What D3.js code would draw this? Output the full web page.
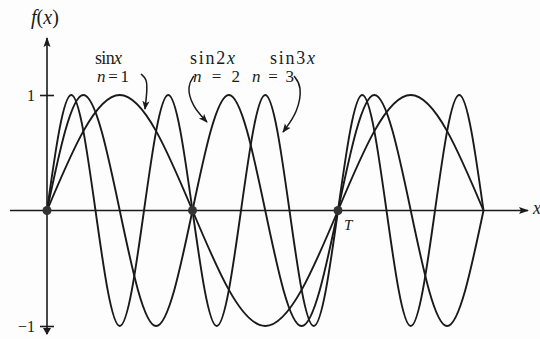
<!DOCTYPE html>
<html>
<head>
<meta charset="utf-8">
<script src="https://cdn.jsdelivr.net/npm/d3@7/dist/d3.min.js"></script>
<style>
  html, body { margin: 0; padding: 0; background: #fdfdfd; }
  svg { display: block; }
</style>
</head>
<body>
<svg id="chart" width="540" height="339"></svg>
<script>
// Harmonics n = 1, 2, 3 over one and a half periods (0 .. 3π)
const harmonics = [1, 2, 3];
const seriesNames = ["sin x", "sin2x", "sin3x"];
const seriesTags = ["n = 1", "n = 2", "n = 3"];

// Curve values at every quarter of each harmonic's own period
const sin1Values = [0, 1, 0, -1, 0, 1, 0];
const sin2Values = [0, 1, 0, -1, 0, 1, 0, -1, 0, 1, 0, -1, 0];
const sin3Values = [0, 1, 0, -1, 0, 1, 0, -1, 0, 1, 0, -1, 0, 1, 0, -1, 0, 1, 0];
const seriesValues = [sin1Values, sin2Values, sin3Values];

// Marked points on the axis: 0, π, T = 2π
const markedX = [0, Math.PI, 2 * Math.PI];
const yTicks = [-1, 1];
const yTickLabels = ["\u22121", "1"];

const ink = "#1a1a1a";
const serif = "'Liberation Serif', 'Times New Roman', Times, 'DejaVu Serif', serif";
const svg = d3.select("#chart");

const x = d3.scaleLinear().domain([0, 2 * Math.PI]).range([47, 338]);
const y = d3.scaleLinear().domain([-1, 1]).range([326, 95]);

// arrowhead markers
const defs = svg.append("defs");
defs.append("marker")
  .attr("id", "head").attr("viewBox", "0 0 10 10")
  .attr("refX", 9).attr("refY", 5)
  .attr("markerWidth", 9).attr("markerHeight", 9)
  .attr("markerUnits", "userSpaceOnUse")
  .attr("orient", "auto")
  .append("path").attr("d", "M0,1 L10,5 L0,9 L2.5,5 Z").attr("fill", ink);
defs.append("marker")
  .attr("id", "axisHead").attr("viewBox", "0 0 10 10")
  .attr("refX", 9).attr("refY", 5)
  .attr("markerWidth", 13).attr("markerHeight", 10)
  .attr("markerUnits", "userSpaceOnUse")
  .attr("orient", "auto")
  .append("path").attr("d", "M0,1.5 L10,5 L0,8.5 L2,5 Z").attr("fill", ink);

// x axis
svg.append("line")
  .attr("x1", 10).attr("x2", 528)
  .attr("y1", y(0)).attr("y2", y(0))
  .attr("stroke", ink).attr("stroke-width", 1.6)
  .attr("marker-end", "url(#axisHead)");

// y axis
svg.append("line")
  .attr("x1", x(0)).attr("x2", x(0))
  .attr("y1", 334).attr("y2", 38)
  .attr("stroke", ink).attr("stroke-width", 1.6)
  .attr("marker-end", "url(#axisHead)");
svg.append("path")
  .attr("d", `M${x(0) - 4},${y(-1) + 2} L${x(0) + 4},${y(-1) + 2} L${x(0)},${y(-1) + 9} Z`)
  .attr("fill", ink);

const yAxis = d3.axisLeft(y)
  .tickValues(yTicks)
  .tickFormat((d, i) => yTickLabels[i])
  .tickSizeOuter(0);
const gy = svg.append("g")
  .attr("transform", `translate(${x(0)},0)`)
  .call(yAxis)
  .attr("font-family", serif);
gy.select(".domain").remove();
gy.selectAll(".tick line")
  .attr("x1", -7).attr("x2", 7)
  .attr("stroke", ink).attr("stroke-width", 1.6);
gy.selectAll(".tick text")
  .attr("x", -12)
  .attr("font-size", 16)
  .attr("fill", ink);

// curves
const line = d3.line()
  .x(d => x(d[0]))
  .y(d => y(d[1]))
  .curve(d3.curveNatural);

harmonics.forEach((n, k) => {
  const step = Math.PI / (2 * n);
  const pts = seriesValues[k].map((v, i) => [i * step, v]);
  svg.append("path")
    .datum(pts)
    .attr("d", line)
    .attr("fill", "none")
    .attr("stroke", ink)
    .attr("stroke-width", 1.9)
    .attr("stroke-linejoin", "round");
});

// marked points
svg.selectAll("circle.mark")
  .data(markedX)
  .join("circle")
  .attr("class", "mark")
  .attr("cx", d => x(d))
  .attr("cy", y(0))
  .attr("r", 4.5)
  .attr("fill", "#333");

const label = () => svg.append("text").attr("font-family", serif).attr("fill", ink);

// T label
label()
  .attr("x", x(2 * Math.PI) + 6).attr("y", y(0) + 19)
  .attr("font-size", 15).attr("font-style", "italic")
  .text("T");

// f(x) label
const fx = label().attr("x", 31).attr("y", 24).attr("font-size", 20);
fx.append("tspan").attr("font-style", "italic").text("f");
fx.append("tspan").text("(");
fx.append("tspan").attr("font-style", "italic").text("x");
fx.append("tspan").text(")");

// x label at the end of the axis
label()
  .attr("x", 533).attr("y", 214)
  .attr("font-size", 18).attr("font-style", "italic")
  .text("x");

// series labels
const labelPos = [
  { x: 95, w: 27, tx: 97, tw: 32 },
  { x: 190, w: 45, tx: 193, tw: 47 },
  { x: 270, w: 45, tx: 252, tw: 42 }
];
seriesNames.forEach((name, k) => {
  const p = labelPos[k];
  const t = label()
    .attr("x", p.x).attr("y", 64)
    .attr("font-size", 18)
    .attr("textLength", p.w)
    .attr("lengthAdjust", "spacing");
  const m = name.match(/^(sin)\s?(\d?)(x)$/);
  t.append("tspan").text(m[1] + m[2]);
  t.append("tspan").attr("font-style", "italic").text(m[3]);

  const tag = label()
    .attr("x", p.tx).attr("y", 82)
    .attr("font-size", 17)
    .attr("textLength", p.tw)
    .attr("lengthAdjust", "spacing");
  tag.append("tspan").attr("font-style", "italic").text("n");
  tag.append("tspan").text(seriesTags[k].slice(1));
});

// pointer arrows from the labels to their curves
const pointers = [
  [[141, 74], [147, 79], [147, 92], [145, 109]],
  [[194, 76], [187, 86], [192, 106], [207, 122]],
  [[294, 76], [302, 86], [298, 112], [283, 132]]
];
const pointerLine = d3.line().curve(d3.curveBasis);
pointers.forEach(p => {
  svg.append("path")
    .attr("d", pointerLine(p))
    .attr("fill", "none")
    .attr("stroke", ink)
    .attr("stroke-width", 1.5)
    .attr("marker-end", "url(#head)");
});
</script>
</body>
</html>
